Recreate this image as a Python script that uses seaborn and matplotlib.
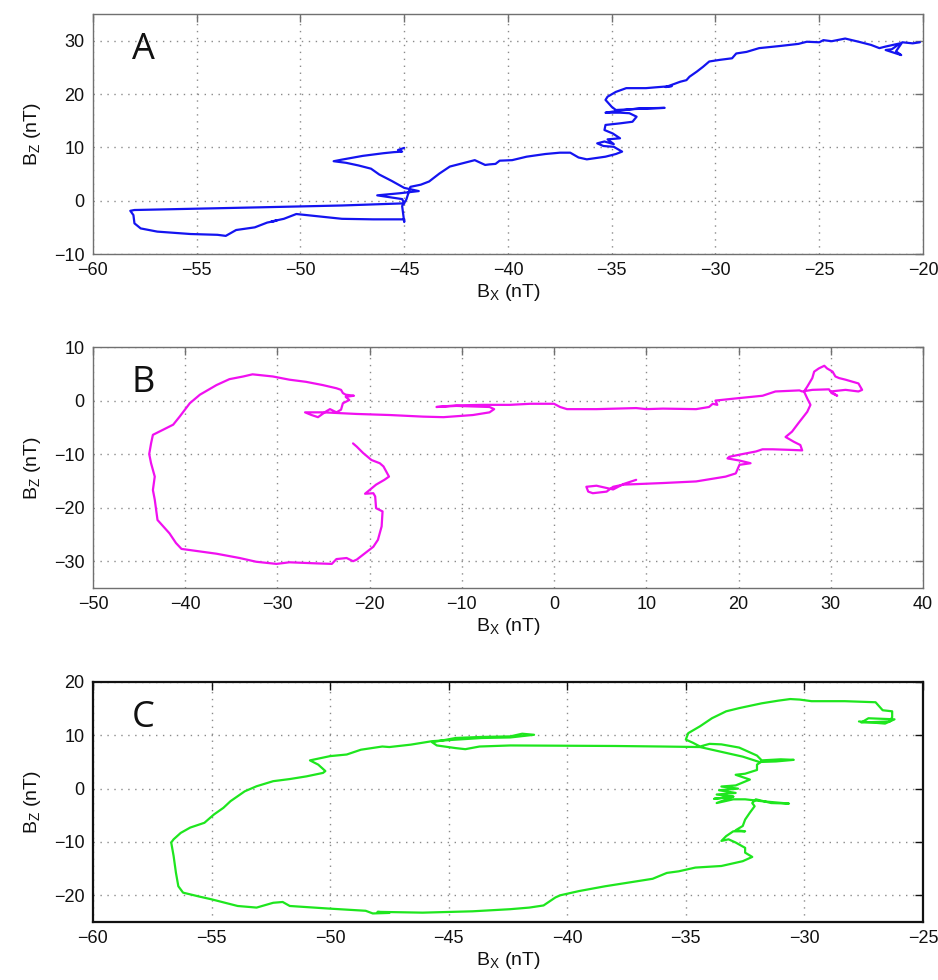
import numpy as np
import pandas as pd
import matplotlib
matplotlib.use("Agg")
import matplotlib.pyplot as plt
import seaborn as sns

# ---- hodogram traces (Bx, Bz in nT) ----
bx_a = [-45.0, -45.3, -45.1, -45.5, -46.0, -47.0, -48.0, -48.4, -47.8, -47.2, -46.6, -46.2,
        -45.6, -45.0, -44.3, -45.2, -46.3, -45.1, -45.0,
        -48.0, -52.0, -55.0, -58.0, -58.2, -58.05, -58.0, -57.7, -56.9, -55.3, -54.0, -53.6,
        -53.1, -52.2, -51.6, -51.15, -51.4, -50.8, -50.2, -48.0, -46.5, -45.0, -45.0,
        -45.1, -44.9, -44.7, -44.2, -43.8, -43.3, -42.8, -42.2, -41.6, -41.1, -40.9, -40.6,
        -40.4, -39.8, -39.1, -38.2, -37.5, -37.0, -36.6, -36.2, -35.75, -35.3, -34.8, -34.5,
        -34.9, -35.4, -35.7, -35.35, -34.9, -35.2, -34.6, -34.95, -35.35, -35.3, -34.6, -34.0,
        -33.8, -34.15, -34.6, -35.3, -34.6, -33.7, -32.45, -33.8, -34.8, -35.0, -35.3, -35.2,
        -34.8, -34.3, -33.8, -33.35, -32.9, -32.1, -32.4, -31.7, -31.4, -31.25, -30.9, -30.6,
        -30.3, -29.8, -29.2, -29.0, -28.5, -27.9, -26.9, -26.0, -25.6, -25.0, -24.8, -24.4,
        -23.75, -23.1, -22.5, -22.1, -21.8, -21.1, -21.5, -21.8, -21.05, -21.3, -21.0, -20.5,
        -20.15]
bz_a = [9.9, 9.5, 9.2, 9.1, 8.9, 8.4, 7.7, 7.4, 7.1, 6.6, 6.0, 4.9,
        3.7, 2.4, 1.8, 1.4, 1.0, 0.3, -0.5,
        -0.9, -1.25, -1.5, -1.75, -1.9, -2.7, -4.25, -5.2, -5.8, -6.25, -6.4, -6.6,
        -5.5, -5.0, -4.1, -3.75, -3.9, -3.4, -2.5, -3.4, -3.5, -3.5, -4.0,
        -1.0, 0.2, 2.6, 3.0, 3.6, 5.1, 6.4, 7.0, 7.6, 6.7, 6.8, 6.9,
        7.5, 7.6, 8.25, 8.75, 9.0, 9.0, 8.1, 7.75, 8.0, 8.25, 8.75, 9.2,
        10.1, 10.25, 10.75, 11.1, 10.6, 11.5, 11.7, 12.6, 13.25, 14.2, 14.5, 14.8,
        15.75, 16.4, 16.5, 16.5, 16.9, 17.3, 17.4, 17.2, 17.0, 17.6, 18.9, 19.5,
        20.4, 21.1, 21.1, 21.1, 21.25, 21.5, 21.3, 22.3, 22.6, 23.25, 24.2, 25.1,
        26.1, 26.4, 26.7, 27.6, 27.9, 28.6, 29.0, 29.4, 29.8, 29.7, 30.1, 29.9,
        30.4, 29.8, 29.2, 28.6, 28.9, 29.5, 28.4, 28.25, 27.3, 28.0, 29.7, 29.5,
        29.7]

bx_b = [-21.8, -21.4, -20.7, -19.8, -18.9, -18.5, -17.9, -18.4, -19.3, -20.5, -19.6, -19.4,
        -19.3, -18.6, -18.7, -19.1, -19.6, -20.5, -21.4, -21.8, -22.5, -23.6, -24.1, -25.8,
        -28.7, -30.1, -32.3, -34.1, -36.6, -39.5, -40.4, -41.0, -41.7, -43.0, -43.3, -43.5,
        -43.3, -43.7, -43.9, -43.7, -43.5, -42.8, -41.3, -40.6, -39.5, -38.4, -36.6, -35.2,
        -33.7, -32.7, -30.5, -28.7, -26.9, -25.1, -23.6, -23.1, -22.9, -22.6, -21.7, -22.6,
        -22.2, -22.9, -23.1, -23.6, -24.3, -24.7, -25.6, -26.3, -27.0, -25.0, -21.4, -17.8,
        -14.2, -12.0, -8.8, -7.0, -6.5, -7.0, -10.6, -12.75, -10.6, -7.7, -4.8, -2.6,
        0.0, 0.65, 1.4, 4.6, 8.9, 10.0, 11.8, 15.4, 16.8, 17.2, 17.7, 17.5,
        19.7, 22.6, 24.0, 26.6, 26.9, 28.0, 29.8, 30.1, 30.7, 30.0, 31.6, 33.0,
        33.4, 33.0, 31.6, 30.9, 30.5, 30.2, 29.6, 29.3, 28.7, 28.2, 28.0, 27.45,
        27.1, 27.45, 27.8, 27.45, 26.5, 25.8, 25.1, 26.0, 26.7, 26.9, 25.5, 23.7,
        22.6, 21.9, 20.4, 19.0, 18.8, 20.1, 21.3, 20.1, 19.7, 18.6, 15.4, 11.8,
        7.5, 6.4, 5.7, 4.2, 3.7, 3.5, 4.6, 6.4, 7.5, 8.9]
bz_b = [-8.0, -8.6, -9.8, -11.1, -11.7, -12.3, -14.2, -14.8, -15.7, -17.4, -17.3, -17.9,
        -20.1, -20.7, -23.5, -26.0, -27.3, -28.5, -29.7, -30.0, -29.4, -29.6, -30.5, -30.4,
        -30.2, -30.5, -30.1, -29.4, -28.6, -27.9, -27.7, -26.6, -24.8, -22.3, -18.5, -16.7,
        -14.2, -11.7, -10.0, -8.0, -6.4, -5.8, -4.5, -3.0, -0.5, 1.1, 2.9, 4.0,
        4.5, 4.9, 4.5, 3.9, 3.5, 2.9, 2.3, 2.0, 1.4, 1.1, 0.9, 0.7,
        0.1, -0.5, -1.7, -2.2, -1.6, -2.0, -3.1, -2.7, -2.2, -2.2, -2.5, -2.7,
        -3.0, -3.1, -2.7, -2.2, -1.6, -1.2, -1.0, -1.2, -0.9, -0.8, -0.8, -0.6,
        -0.6, -1.2, -1.6, -1.6, -1.4, -1.6, -1.5, -1.6, -1.2, -0.6, -0.8, 0.0,
        0.4, 0.9, 1.7, 1.9, 1.7, 2.0, 2.1, 1.4, 0.9, 1.7, 2.0, 1.7,
        2.0, 3.2, 3.9, 4.2, 4.5, 5.4, 6.0, 6.5, 6.0, 5.4, 4.2, 2.6,
        1.7, 0.4, -0.8, -2.1, -4.2, -5.8, -6.8, -7.7, -8.3, -9.3, -9.2, -9.1,
        -9.1, -9.5, -10.0, -10.5, -10.8, -11.2, -11.7, -12.0, -13.6, -14.2, -15.1, -15.4,
        -15.7, -16.1, -17.0, -17.3, -17.0, -16.1, -15.9, -16.6, -15.6, -14.8]

bx_c = [-27.7, -26.6, -26.2, -27.3, -27.6, -26.4, -26.3, -26.3, -26.7, -27.0, -28.3, -29.7,
        -30.2, -30.6, -31.1, -31.8, -32.75, -33.3, -33.9, -34.4, -34.9, -35.0, -34.7, -34.4,
        -34.0, -33.5, -32.75, -32.0, -31.8, -31.0, -30.45, -31.2, -31.9, -32.6, -33.6, -34.4,
        -36.0, -38.0, -40.0, -42.4, -43.7, -44.3, -44.7, -45.5, -45.7, -44.7, -43.6, -42.4,
        -41.9, -41.4, -42.4, -43.6, -45.7, -46.6, -47.5, -47.8, -48.7, -49.3, -50.0, -50.85,
        -50.5, -50.2, -50.3, -51.0, -51.7, -52.4, -53.1, -53.6, -54.2, -54.5, -54.9, -55.3,
        -55.9, -56.3, -56.6, -56.7, -56.6, -56.5, -56.4, -56.2, -55.5, -55.0, -53.9, -53.1,
        -52.4, -52.0, -51.7, -50.0, -48.5, -48.2, -47.5, -48.0, -46.1, -44.0, -42.4, -41.6,
        -41.0, -40.5, -40.3, -39.5, -38.4, -37.4, -36.4, -35.8, -35.3, -34.6, -33.5, -32.6,
        -32.2, -32.5, -32.5, -32.9, -33.2, -33.5, -33.3, -33.0, -32.5, -32.9, -32.6, -32.5,
        -32.3, -32.1, -32.2, -32.05, -31.4, -30.65, -31.8, -32.5, -33.0, -33.7, -33.0, -33.8,
        -33.0, -33.7, -32.9, -33.6, -32.8, -33.5, -32.9, -32.3, -32.9, -32.5, -32.0, -32.0,
        -31.8]
bz_c = [12.6, 12.2, 13.0, 13.2, 12.4, 12.6, 13.4, 14.5, 14.7, 16.2, 16.4, 16.4,
        16.7, 16.8, 16.5, 16.0, 15.1, 14.5, 13.2, 11.7, 10.4, 9.2, 8.6, 7.9,
        8.4, 8.3, 7.7, 6.2, 5.3, 5.5, 5.4, 5.1, 5.0, 6.0, 7.0, 7.8,
        7.9, 8.0, 8.05, 8.1, 7.9, 7.4, 7.6, 8.1, 8.7, 9.5, 9.7, 9.8,
        10.3, 10.1, 9.6, 9.5, 8.9, 8.25, 7.8, 7.9, 7.3, 6.4, 6.1, 5.3,
        4.5, 3.3, 2.95, 2.3, 1.8, 1.4, 0.45, -0.5, -2.35, -3.6, -4.85, -6.4,
        -7.3, -8.3, -9.5, -10.1, -12.6, -15.8, -18.3, -19.5, -20.25, -20.75, -22.0, -22.3,
        -21.4, -21.25, -22.0, -22.5, -22.9, -23.4, -23.3, -23.1, -23.25, -23.0, -22.6, -22.3,
        -21.9, -20.4, -20.0, -19.2, -18.3, -17.6, -16.9, -15.8, -15.5, -14.8, -14.5, -13.6,
        -12.8, -12.0, -11.1, -10.1, -9.5, -9.8, -8.9, -8.0, -8.0, -7.8, -7.0, -5.8,
        -4.5, -3.3, -2.7, -2.0, -2.7, -2.8, -2.35, -2.0, -2.0, -2.7, -1.5, -1.9,
        -1.5, -1.1, -0.8, -0.3, 0.0, 0.4, 0.6, 1.7, 2.6, 2.8, 3.5, 4.5,
        5.1]

panels = [
    dict(tag="A", bx=bx_a, bz=bz_a, color="#1414f0", xlim=(-60, -20), ylim=(-10, 35),
         xticks=list(range(-60, -19, 5)), yticks=list(range(-10, 31, 10)),
         rect=[0.0991, 0.7408, 0.8849, 0.2449], frame="#707070", frame_lw=1.0),
    dict(tag="B", bx=bx_b, bz=bz_b, color="#f010f0", xlim=(-50, 40), ylim=(-35, 10),
         xticks=list(range(-50, 41, 10)), yticks=list(range(-30, 11, 10)),
         rect=[0.0991, 0.4000, 0.8849, 0.2459], frame="#707070", frame_lw=1.0),
    dict(tag="C", bx=bx_c, bz=bz_c, color="#1ee61e", xlim=(-60, -25), ylim=(-25, 20),
         xticks=list(range(-60, -24, 5)), yticks=list(range(-20, 21, 10)),
         rect=[0.0991, 0.0592, 0.8849, 0.2449], frame="#111111", frame_lw=1.6),
]

sns.set_theme(style="white")
plt.rcParams["font.family"] = ["Liberation Sans", "DejaVu Sans"]
plt.rcParams["mathtext.fontset"] = "custom"
plt.rcParams["mathtext.rm"] = "Liberation Sans"
plt.rcParams["mathtext.it"] = "Liberation Sans"
plt.rcParams["axes.unicode_minus"] = True

fig = plt.figure(figsize=(9.38, 9.8), dpi=100)

for p in panels:
    ax = fig.add_axes(p["rect"])
    df = pd.DataFrame({"Bx": p["bx"], "Bz": p["bz"]})
    sns.lineplot(data=df, x="Bx", y="Bz", sort=False, estimator=None,
                 color=p["color"], linewidth=1.6, ax=ax)
    ax.set_xlim(*p["xlim"])
    ax.set_ylim(*p["ylim"])
    ax.set_xticks(p["xticks"])
    ax.set_yticks(p["yticks"])
    ax.grid(True, linestyle=(0, (1, 4)), color="#8a8a8a", linewidth=1.0)
    ax.set_axisbelow(True)
    ax.tick_params(direction="in", top=True, right=True, length=6, width=1.0,
                   color=p["frame"], labelsize=13, labelcolor="#111111", pad=6)
    for s in ax.spines.values():
        s.set_color(p["frame"])
        s.set_linewidth(p["frame_lw"])
    ax.set_xlabel(r"B$_\mathregular{X}$ (nT)", fontsize=14, color="#111111", labelpad=2)
    ax.set_ylabel(r"B$_\mathregular{Z}$ (nT)", fontsize=14, color="#111111", labelpad=8)
    ax.text(0.047, 0.85, p["tag"], transform=ax.transAxes, fontsize=26,
            family=["Open Sans", "DejaVu Sans"], va="center", ha="left", color="#111111")

fig.savefig("out.png", dpi=100)
